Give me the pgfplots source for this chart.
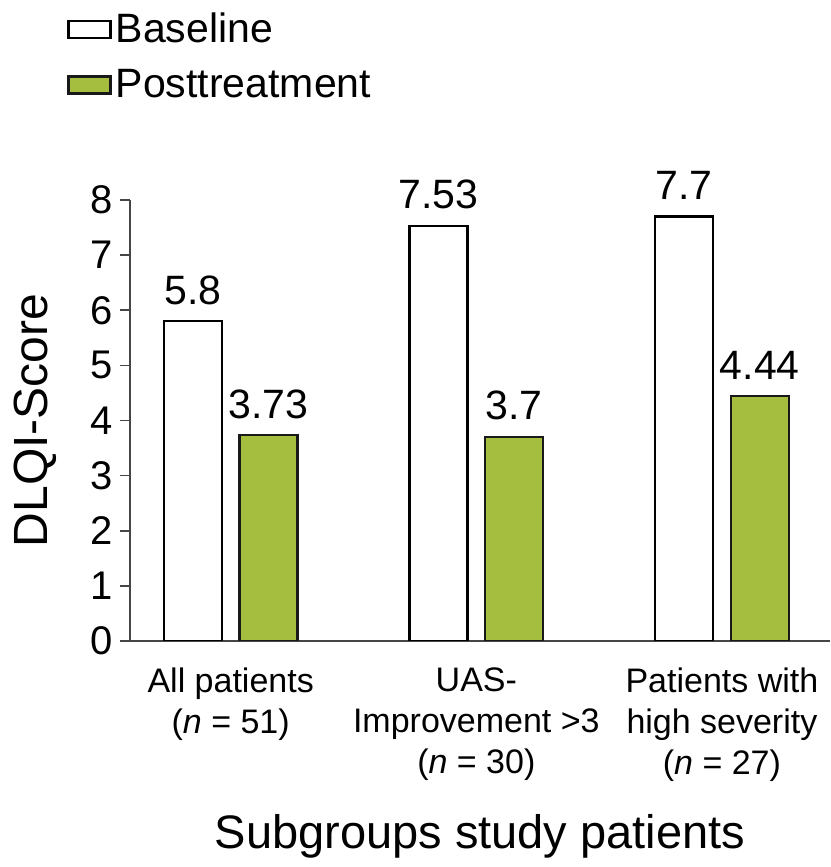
\documentclass[border=0pt]{standalone}
\usepackage{pgfplots}
\pgfplotsset{compat=1.18}
\usepackage{fontspec}
\setmainfont{Liberation Sans}
\definecolor{postgreen}{RGB}{166,190,64}
\definecolor{axisgray}{RGB}{70,70,70}

\begin{document}
\begin{tikzpicture}
\path[use as bounding box] (0,0) rectangle (415pt,433.5pt);
\begin{axis}[
  at={(65pt,113pt)}, anchor=south west,
  scale only axis, width=350pt, height=220.5pt,
  xmin=-0.41, xmax=2.44, ymin=0, ymax=8,
  axis x line=bottom, axis y line=left,
  axis line style={-, draw=axisgray, line width=1.2pt},
  ytick={0,1,...,8},
  tick align=outside, major tick length=5pt,
  ytick style={draw=axisgray, line width=0.8pt},
  xtick={0,1,2}, xtick style={draw=none},
  xticklabels={{All patients\\(\textit{n} = 51)},
               {UAS-\\Improvement >3\\(\textit{n} = 30)},
               {Patients with\\high severity\\(\textit{n} = 27)}},
  xticklabel style={align=center, font=\fontsize{17}{20.5}\selectfont, yshift=-5pt},
  yticklabel style={font=\fontsize{20}{23}\selectfont},
  /pgf/number format/assume math mode=true,
  ylabel={DLQI-Score},
  ylabel style={at={(axis description cs:0,0.5)}, anchor=center, yshift=47.5pt,
                font=\fontsize{24}{28}\selectfont},
  xlabel={Subgroups study patients},
  xlabel style={at={(axis description cs:0.5,0)}, anchor=base, yshift=-103.5pt,
                font=\fontsize{23.5}{28}\selectfont},
  ybar, bar width=0.236,
  nodes near coords,
  nodes near coords style={font=\fontsize{20.5}{23}\selectfont, yshift=4.5pt},
  legend style={at={(axis description cs:-0.09,1.434)}, anchor=north west,
                draw=none, fill=none, inner sep=0pt, row sep=7.8pt,
                font=\fontsize{20.5}{24}\selectfont,
                cells={anchor=west, inner xsep=2pt}},
  legend image code/.code={\draw[#1, line width=1.2pt] (0pt,-4.25pt) rectangle (21pt,4.25pt);},
]
\addplot[bar shift=-0.154, fill=white, draw=black, line width=1.1pt]
  coordinates {(0,5.8) (1,7.53) (2,7.7)};
\addplot[bar shift=0.154, fill=postgreen, draw=black!90, line width=1.1pt]
  coordinates {(0,3.73) (1,3.7) (2,4.44)};
\legend{Baseline, Posttreatment}
\end{axis}
\end{tikzpicture}
\end{document}
